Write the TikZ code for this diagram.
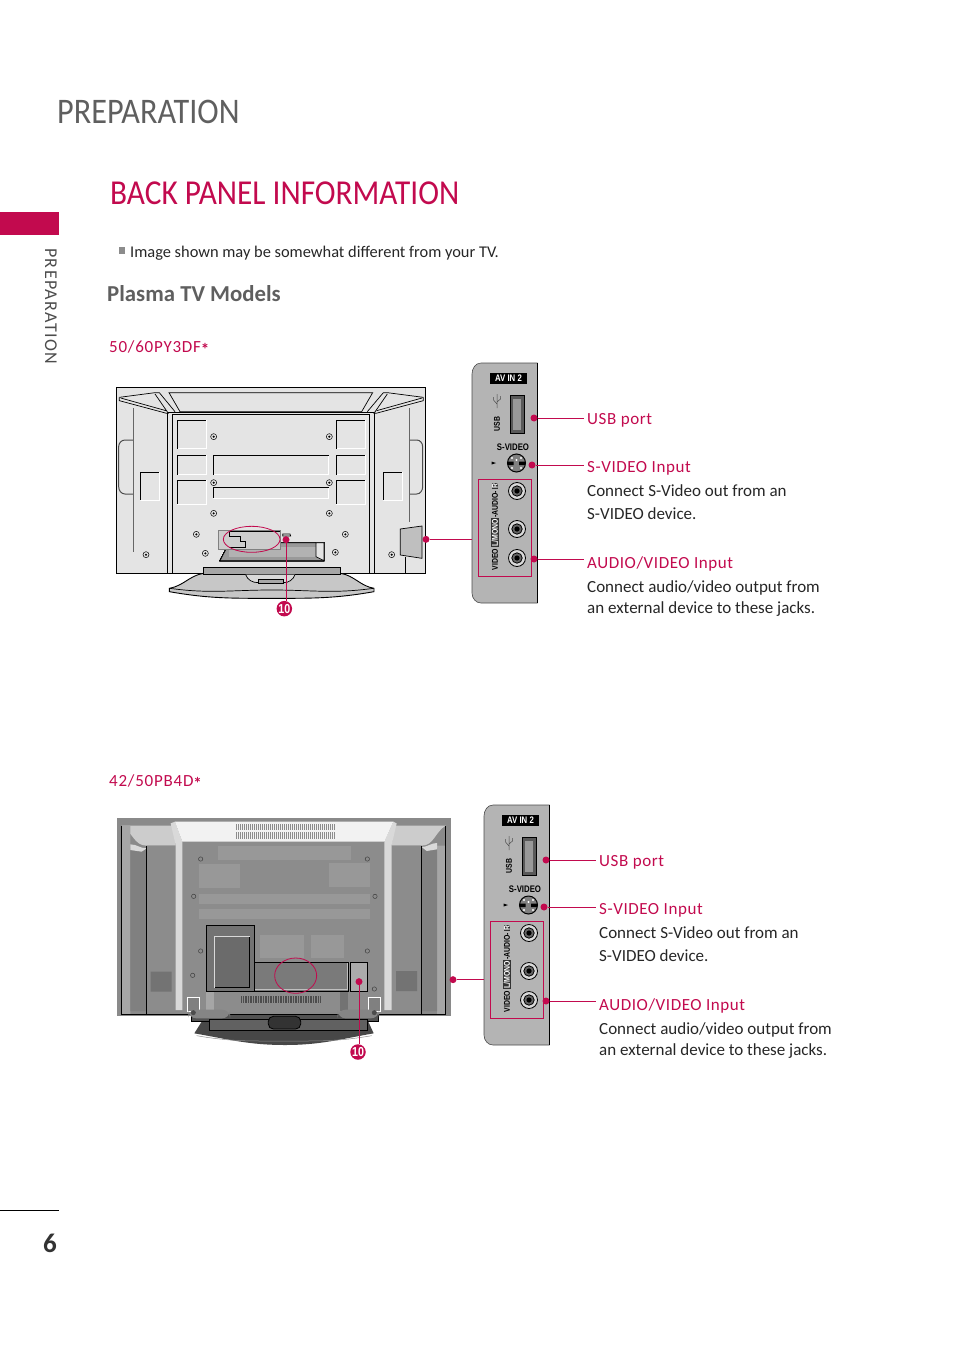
\documentclass[tikz,border=0pt]{standalone}
\usepackage{fontspec}
\setmainfont{Carlito}
\newfontfamily\panelfont[FakeStretch=0.82]{Liberation Sans}
\newfontfamily\headfont[FakeStretch=0.895]{Carlito}
\definecolor{lgred}{HTML}{C20A4E}
\definecolor{headgray}{HTML}{5F5F5F}
\definecolor{panelgray}{HTML}{B4B4B4}
\definecolor{tvlight}{HTML}{E4E4E4}
\definecolor{tvdark}{HTML}{8A8A8A}
\definecolor{tvstrip}{HTML}{989898}

\tikzset{
  headline/.style={anchor=base west, inner sep=0pt, font=\headfont\fontsize{36}{40}\selectfont},
  bodytext/.style={anchor=base west, inner sep=0pt, align=left, text=black!85, font=\fontsize{17}{23}\selectfont},
  redtext/.style={anchor=base west, inner sep=0pt, text=lgred, font=\fontsize{17}{20}\selectfont\addfontfeature{LetterSpace=4.5}},
  calloutlabel/.style={anchor=west, inner sep=0pt, inner xsep=3pt, text=lgred, text height=12pt, text depth=0pt,
                       font=\fontsize{17}{20}\selectfont\addfontfeature{LetterSpace=3.4}},
  reddot/.style={circle, fill=lgred, inner sep=0pt, minimum size=7pt},
  redline/.style={draw=lgred, line width=0.7pt},
  badge/.style={circle, fill=lgred, text=white, inner sep=0pt, minimum size=15.5pt,
                font=\panelfont\bfseries\fontsize{13}{13}\selectfont},
  paneltext/.style={inner sep=0pt, font=\panelfont\bfseries\fontsize{9.5}{9.5}\selectfont},
  panelvert/.style={inner sep=0pt, rotate=90, font=\panelfont\bfseries\fontsize{8.4}{8.4}\selectfont},
  panelinv/.style={panelvert, fill=black!80, text=white, inner xsep=0.4pt, inner ysep=0.6pt},
  tvline/.style={draw=black, line width=0.7pt},
}

% Screw head of the light set
\newcommand{\tvscrew}[1]{
  \draw[black, fill=tvlight, line width=0.5pt] #1 circle (9);
  \fill[black] #1 circle (3.5);
}
% Cinch jack
\newcommand{\rcajack}[1]{
  \draw[black, fill=black!15, line width=0.8pt] #1 circle (8.5);
  \draw[black, fill=black!60, line width=0.8pt] #1 circle (5.2);
  \fill[black] #1 circle (2.6);
}
% Connector panel with its callouts
\newcommand{\avpanel}{
  \draw[black!70, fill=panelgray, line width=0.6pt]
    (537.5,363) -- (481,363) to[out=180,in=90] (472,374) -- (472,593) to[out=-90,in=180] (481,603) -- (537.5,603);
  \draw[black, line width=0.6pt] (537.5,363) -- (537.5,603);
  \coordinate (edge) at (472,539);
  % AV IN 2
  \node[fill=black, text=white, minimum width=37pt, minimum height=11pt, paneltext] (avin) at (508.5,378) {AV IN 2};
  % USB
  \draw[black, fill=black!65, line width=0.9pt] (510.5,395.5) rectangle (524,433.5);
  \fill[black!40] (513,399) rectangle (521,430);
  \draw[black!70, line width=0.5pt] (497,408) -- (497,394) (497,404) -- (493.5,400) -- (493.5,397) (497,402) -- (500.5,399) -- (500.5,396);
  \node[panelvert] (usb) at (497,424) {USB};
  % S-VIDEO
  \node[paneltext] (svideo) at (513,447) {S-VIDEO};
  \fill[black] (491.5,461.5) -- (496,463) -- (491.5,464.5) -- cycle;
  \draw[black, fill=black!50, line width=1pt] (516.5,463) circle (9);
  \fill[black] (507.5,461.5) rectangle (513.5,465) (519,461.5) rectangle (525,465);
  \fill[white] (512,458) circle (1.2) (521,458) circle (1.2) (512,468) circle (1.2) (521,468) circle (1.2) (516.5,460) circle (1.2);
  % Jacks
  \draw[draw=lgred, line width=0.6pt] (478.5,479.5) rectangle (531.5,576);
  \rcajack{(517,491)}
  \rcajack{(517,529)}
  \rcajack{(517,558)}
  \node[panelvert] (video) at (495,559.5) {VIDEO};
  \node[panelinv] (mono) at (495,532.5) {L/MONO};
  \node[panelvert] (audio) at (495,504.5) {-AUDIO-};
  \node[panelinv] (right) at (495,486) {R};
  % Callouts
  \node[reddot] (dotusb) at (534,418) {};
  \node[reddot] (dotsv) at (532,465) {};
  \node[reddot] (dotav) at (534,559) {};
  \node[calloutlabel] (labusb) at (584,418) {USB port};
  \node[calloutlabel] (labsv) at (584,466) {S-VIDEO Input};
  \node[calloutlabel] (labav) at (584,562) {AUDIO/VIDEO Input};
  \draw[redline] (dotusb) -- (dotusb -| labusb.west);
  \draw[redline] (dotsv) -- (dotsv -| labsv.west);
  \draw[redline] (dotav) -- (dotav -| labav.west);
  \node[bodytext] (txtsv) at (587,519) {Connect S-Video out from an\\S-VIDEO device.};
  \node[bodytext, font=\fontsize{17}{21.5}\selectfont] (txtav) at (587,613.5) {Connect audio/video output from\\an external device to these jacks.};
}

\begin{document}
\begin{tikzpicture}[x=1pt, y=-1pt]
  \useasboundingbox (0,0) rectangle (954,1348);

  % Page furniture
  \node[headline, text=headgray] (pagetitle) at (57,123.5) {PREPARATION};
  \node[headline, text=lgred, font=\headfont\fontsize{35}{40}\selectfont] (sectitle) at (110,205) {BACK PANEL INFORMATION};
  \fill[lgred] (0,212) rectangle (59,235);
  \node[rotate=-90, anchor=west, inner sep=0pt, text=black!70,
        font=\fontsize{18}{20}\selectfont\addfontfeature{LetterSpace=8}] (sidetab) at (51,248) {PREPARATION};
  \fill[black!45] (118.5,247.5) rectangle (125,254);
  \node[anchor=base west, inner sep=0pt, text=black!85, font=\fontsize{16.4}{20}\selectfont] (note) at (130,258) {Image shown may be somewhat different from your TV.};
  \node[anchor=base west, inner sep=0pt, text=headgray, font=\bfseries\fontsize{22.8}{26}\selectfont] (models) at (107,301) {Plasma TV Models};
  \node[redtext] (modela) at (109,352) {50/60PY3DF\raisebox{-3pt}{\textbf{*}}};
  \node[redtext] (modelb) at (109,786) {42/50PB4D\raisebox{-3pt}{\textbf{*}}};
  \draw[black, line width=0.7pt] (0,1210) -- (59,1210);
  \node[anchor=base, inner sep=0pt, text=black!80, font=\bfseries\fontsize{27}{27}\selectfont] (pageno) at (50,1252) {6};

  % Light TV, coordinates of the crop
  \begin{scope}[shift={(100,370)}, scale=1/3]
    \draw[black, fill=tvlight, line width=0.9pt] (50,53) rectangle (977,610);
    % Wings and top
    \draw[tvline] (58,82) -- (165,68) -- (178,68) -- (225,125);
    \draw[tvline] (58,82) -- (58,92) -- (200,130) -- (205,130) -- (165,72);
    \draw[tvline] (62,84) -- (198,122);
    \draw[tvline] (970,82) -- (862,68) -- (850,68) -- (802,125);
    \draw[tvline] (970,82) -- (970,92) -- (828,130) -- (822,130) -- (862,72);
    \draw[tvline] (966,84) -- (830,122);
    \draw[tvline] (207,68) -- (818,68) -- (785,125) -- (240,125) -- cycle;
    \draw[tvline] (203,130) -- (203,610) (824,130) -- (824,610);
    \draw[tvline] (217,610) -- (217,133) -- (808,133) -- (808,610);
    \draw[tvline] (205,128) -- (822,128);
    % Handles
    \draw[black!70, line width=1pt] (100,210) -- (75,210) to[out=180,in=90] (56,230) -- (56,350) to[out=-90,in=180] (75,372) -- (100,372);
    \draw[black!70, line width=1pt] (930,210) -- (950,210) to[out=0,in=90] (968,230) -- (968,350) to[out=-90,in=0] (950,372) -- (930,372);
    \draw[black!60, line width=1pt] (100,115) -- (100,545) (927,115) -- (927,455);
    % Plates
    \foreach \xa/\ya/\xb/\yb in {232/151/318/236, 709/151/795/236, 232/256/318/314, 709/256/795/314,
        232/331/318/402, 709/331/795/402, 340/256/686/314, 340/352/686/385, 121/307/178/391, 850/307/906/391} {
      \draw[white, line width=1pt] (\xb,\ya) -- (\xb,\yb) -- (\xa,\yb);
      \draw[tvline] (\xa,\yb) -- (\xa,\ya) -- (\xb,\ya);
    }
    % Screws
    \foreach \sx/\sy in {341/200, 688/200, 341/338, 688/338, 341/430, 688/430, 289/493, 736/493, 316/550, 706/547, 138/554, 875/554}
      \tvscrew{(\sx,\sy)}
    % Connector bay
    \draw[tvline, fill=black!40] (360,572) -- (388,518) -- (672,518) -- (672,572) -- cycle;
    \fill[black!30] (388,532) rectangle (648,560);
    \draw[tvline, fill=tvlight] (648,518) -- (672,518) -- (672,572) -- (648,560) -- cycle;
    \draw[black!50, fill=tvlight!90!black, line width=0.6pt] (354,482) rectangle (540,538);
    \draw[tvline] (388,484) -- (540,484) (388,484) -- (388,500) -- (420,500) -- (420,514) -- (436,514) -- (436,532) -- (388,532);
    \draw[tvline] (548,492) -- (570,492) -- (572,498) -- (548,498) -- cycle;
    % Side box
    \draw[tvline, fill=black!25] (901,477) -- (966,468) -- (966,565) -- (901,555) -- cycle;
    \draw[tvline] (917,560) -- (917,610);
    % Stand
    \draw[tvline, fill=black!22, line width=0.9pt] (310,610) to[out=190,in=10] (208,655) -- (208,665) to[out=-10,in=180] (515,685) to[out=0,in=190] (822,665) -- (822,655) to[out=170,in=-10] (722,610) -- cycle;
    \draw[tvline] (210,655) to[out=-8,in=180] (515,660) to[out=0,in=188] (820,655);
    \draw[tvline, fill=black!35] (310,592) rectangle (722,614);
    \draw[tvline, fill=black!15] (437,614) to[out=-70,in=180] (475,638) -- (550,638) to[out=0,in=-110] (585,614);
    \draw[tvline, fill=black!35] (475,628) rectangle (550,640);
    % Callout marks
    \draw[draw=lgred, line width=0.8pt] (455,508) ellipse (85 and 39);
    \node[reddot] (doth) at (558,509) {};
    \node[badge] (numa) at (553,716) {10};
    \node[reddot] (dota) at (978,508) {};
  \end{scope}

  % Dark TV, coordinates of the crop
  \begin{scope}[shift={(105,805)}, scale=1/3]
    \fill[tvdark] (35,40) rectangle (1038,632);
    % Wings
    \fill[black!20] (50,62) to[out=-30,in=180] (125,122) -- (212,122) -- (205,62) -- cycle;
    \fill[black!20] (1022,62) to[out=210,in=0] (950,122) -- (860,122) -- (868,62) -- cycle;
    \fill[black!35] (50,62) rectangle (76,628) (996,122) rectangle (1022,628);
    \fill[black!50] (76,130) rectangle (125,618) (950,130) rectangle (996,618);
    \fill[black!45] (125,122) rectangle (212,620) (860,122) rectangle (950,620);
    \fill[white!85!black] (76,118) to[out=0,in=180] (125,130) -- (110,140) -- (76,135) -- cycle;
    \fill[white!85!black] (996,114) to[out=180,in=0] (950,126) -- (965,138) -- (996,133) -- cycle;
    % Centre
    \fill[black!45] (232,110) rectangle (838,620);
    \fill[black!15] (197,55) -- (210,50) -- (232,110) -- (232,615) -- (212,615) -- (212,120) -- cycle;
    \fill[black!15] (875,55) -- (865,50) -- (838,110) -- (838,615) -- (860,615) -- (860,120) -- cycle;
    \fill[black!5] (210,50) -- (865,50) -- (838,110) -- (232,110) -- cycle;
    \foreach \xa/\ya/\xb/\yb in {340/123/738/165, 282/177/405/248, 672/175/795/246, 282/267/795/297,
        282/312/795/342, 465/390/597/460, 618/390/717/460}
      \fill[tvstrip] (\xa,\ya) rectangle (\xb,\yb);
    \fill[black!55] (137,500) rectangle (200,560) (873,498) rectangle (936,558);
    % Vents
    \foreach \vx in {393,399,...,687} {
      \draw[black!45, line width=0.9pt] (\vx,57) -- (\vx,76);
      \draw[black!45, line width=0.9pt] (\vx,82) -- (\vx,101);
    }
    % Screws
    \foreach \sx/\sy in {287/162, 787/162, 266/274, 810/274, 287/438, 787/438, 263/511, 808/552}
      \draw[black!75, line width=0.5pt] (\sx,\sy) circle (6.5);
    % Lower part
    \draw[black, fill=black!55, line width=0.8pt] (304,558) -- (304,362) -- (448,362) -- (448,558);
    \draw[black, fill=black!58, line width=0.8pt] (329,548) -- (434,548) -- (434,395) -- (329,395);
    \draw[black!15, line width=0.8pt] (329,548) -- (329,395) -- (434,395);
    \draw[black, fill=black!52, line width=0.6pt] (448,472) rectangle (730,558);
    \draw[black!25, line width=0.8pt] (728,474) -- (728,554) -- (450,554);
    \draw[black, fill=black!33, line width=0.6pt] (736,472) rectangle (788,560);
    \fill[black!45] (304,558) rectangle (730,618);
    \fill[black!35] (304,558) rectangle (328,618);
    \fill[black!55] (705,558) rectangle (730,618);
    \draw[black, line width=0.8pt] (304,558) -- (730,558);
    \foreach \vx in {410,415,...,648}
      \draw[black!70, line width=0.9pt] (\vx,573) -- (\vx,593);
    % Frame lines
    \draw[black, line width=0.8pt] (50,62) -- (50,628) -- (1022,628) -- (1022,62);
    \draw[black, line width=0.8pt] (125,628) -- (125,122) (950,628) -- (950,122);
    % Stand
    \fill[black!72] (290,650) -- (268,685) to[out=-10,in=180] (540,720) to[out=0,in=190] (806,685) -- (790,650) -- cycle;
    \draw[black!45, line width=0.5pt] (275,692) to[out=-10,in=180] (540,708) to[out=0,in=190] (800,692);
    \draw[black, fill=black!68, line width=0.8pt] (260,628) rectangle (820,650);
    \draw[black, fill=black!62, line width=0.8pt] (314,642) rectangle (786,677);
    \draw[black, fill=black!80, rounded corners=5pt, line width=0.8pt] (490,634) rectangle (587,672);
    % Feet
    \draw[white, fill=black!50, line width=0.7pt] (247,578) rectangle (283,620) (790,578) rectangle (826,620);
    \fill[black!48, rounded corners=8pt] (250,614) rectangle (375,640) (698,614) rectangle (822,640);
    \fill[black!70] (265,623) circle (7.5) (808,623) circle (7.5);
    % Callout marks
    \draw[draw=lgred, line width=0.8pt] (572,512) ellipse (63 and 53);
    \node[reddot] (doti) at (762,530) {};
    \node[badge] (numb) at (759,741) {10};
    \node[reddot] (dotb) at (1044,524) {};
  \end{scope}

  % Connector panels
  \begin{scope}[name prefix=a-]
    \avpanel
  \end{scope}
  \begin{scope}[shift={(12,442)}, name prefix=b-]
    \avpanel
  \end{scope}

  % Arrows
  \draw[redline] (doth) -- (doth |- numa.north);
  \draw[redline] (doti) -- (doti |- numb.north);
  \draw[redline] (dota) -- (dota -| a-edge);
  \draw[redline] (dotb) -- (dotb -| b-edge);
\end{tikzpicture}
\end{document}
